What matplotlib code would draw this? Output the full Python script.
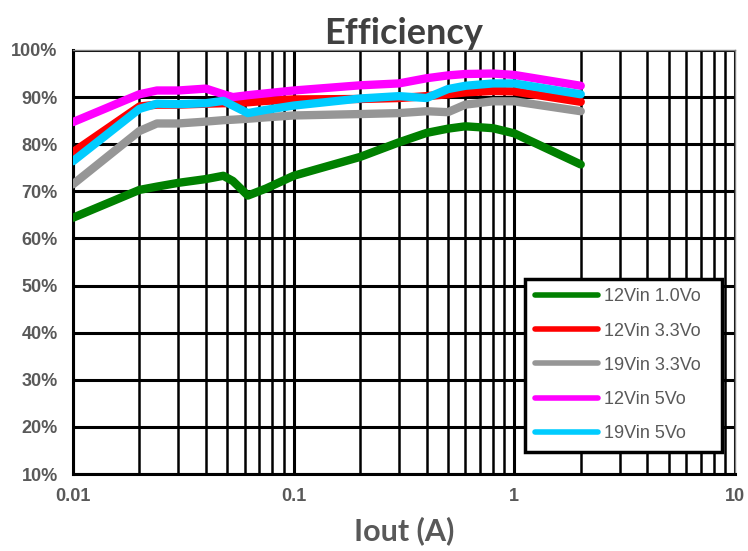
import matplotlib
matplotlib.use("Agg")
import matplotlib.pyplot as plt
from matplotlib.ticker import LogLocator, FixedLocator, FuncFormatter, NullFormatter

# Output current (A), same sample points for all curves
iout = [0.01, 0.02, 0.024, 0.03, 0.04, 0.048, 0.053, 0.062, 0.075, 0.1,
        0.2, 0.3, 0.4, 0.5, 0.6, 0.8, 1.0, 2.0]

# Efficiency (%)
eff_12v_1v0 = [64.4, 70.3, 71.0, 71.8, 72.6, 73.3, 72.2, 69.1, 70.6, 73.3,
               77.3, 80.4, 82.4, 83.3, 83.8, 83.4, 82.3, 75.7]
eff_12v_3v3 = [78.3, 88.0, 88.4, 88.4, 88.6, 88.7, 88.7, 88.9, 89.2, 89.5,
               89.6, 89.8, 90.2, 90.6, 91.0, 91.3, 91.2, 89.0]
eff_19v_3v3 = [71.5, 82.8, 84.4, 84.4, 84.8, 85.1, 85.2, 85.4, 85.7, 86.1,
               86.4, 86.6, 87.0, 86.8, 88.4, 89.1, 89.1, 87.0]
eff_12v_5v = [84.7, 90.6, 91.4, 91.4, 91.8, 90.6, 90.0, 90.4, 90.8, 91.4,
              92.5, 92.9, 94.0, 94.6, 94.9, 95.0, 94.7, 92.4]
eff_19v_5v = [76.4, 87.5, 88.6, 88.5, 88.7, 89.2, 88.2, 86.6, 87.3, 88.2,
              89.7, 90.2, 89.8, 91.7, 92.4, 92.9, 92.9, 90.6]

labels = ["12Vin 1.0Vo", "12Vin 3.3Vo", "19Vin 3.3Vo", "12Vin 5Vo", "19Vin 5Vo"]
colors = ["#008000", "#ff0000", "#969696", "#ff00ff", "#00ccff"]
series = [eff_12v_1v0, eff_12v_3v3, eff_19v_3v3, eff_12v_5v, eff_19v_5v]

y_ticks = [10, 20, 30, 40, 50, 60, 70, 80, 90, 100]
x_ticks = [0.01, 0.1, 1, 10]
x_ticklabels = ["0.01", "0.1", "1", "10"]

label_gray = "#595959"

fig = plt.figure(figsize=(7.48, 5.51), dpi=100)
ax = fig.add_axes([0.0976, 0.1397, 0.885, 0.7696])

for vals, col, lab in zip(series, colors, labels):
    ax.plot(iout, vals, color=col, lw=6, label=lab,
            solid_capstyle="round", solid_joinstyle="round", zorder=3)

ax.set_xscale("log")
ax.set_xlim(0.01, 10)
ax.set_ylim(10, 100)

ax.xaxis.set_major_locator(FixedLocator(x_ticks))
ax.xaxis.set_minor_locator(LogLocator(base=10, subs=range(2, 10), numticks=20))
ax.xaxis.set_minor_formatter(NullFormatter())
ax.set_xticks(x_ticks)
ax.set_xticklabels(x_ticklabels)
ax.set_yticks(y_ticks)
ax.yaxis.set_major_formatter(FuncFormatter(lambda v, p: "%d%%" % v))

ax.grid(which="major", color="black", lw=2.2, zorder=1)
ax.grid(which="minor", axis="x", color="black", lw=1.8, zorder=1)
ax.set_axisbelow(True)

ax.tick_params(which="both", length=0)
ax.tick_params(axis="y", pad=11)
ax.tick_params(axis="x", pad=10)
for lbl in ax.get_xticklabels() + ax.get_yticklabels():
    lbl.set_family("Liberation Sans")
    lbl.set_fontweight("bold")
    lbl.set_fontsize(13)
    lbl.set_color(label_gray)

for side in ["left", "bottom"]:
    ax.spines[side].set_color("black")
    ax.spines[side].set_linewidth(2.2)
for side in ["top", "right"]:
    ax.spines[side].set_color("#808080")
    ax.spines[side].set_linewidth(1.0)

ax.set_title("Efficiency", family="Lato", fontweight="bold", fontsize=26,
             color="#404040", pad=4)
ax.set_xlabel("Iout (A)", family="Lato", fontweight="bold", fontsize=22,
              color=label_gray, labelpad=8)

leg = ax.legend(loc="lower left", bbox_to_anchor=(0.683, 0.052, 0.297, 0.422),
                mode="expand", borderaxespad=0, fancybox=False, framealpha=1,
                edgecolor="black", handlelength=3.5, handletextpad=0.3,
                labelspacing=0.95, borderpad=0.55,
                prop={"family": "Liberation Sans", "size": 13})
leg.get_frame().set_linewidth(2.5)
leg.set_zorder(5)
for line in leg.get_lines():
    line.set_linewidth(4)
for txt in leg.get_texts():
    txt.set_color(label_gray)

fig.savefig("out.png", dpi=100)
